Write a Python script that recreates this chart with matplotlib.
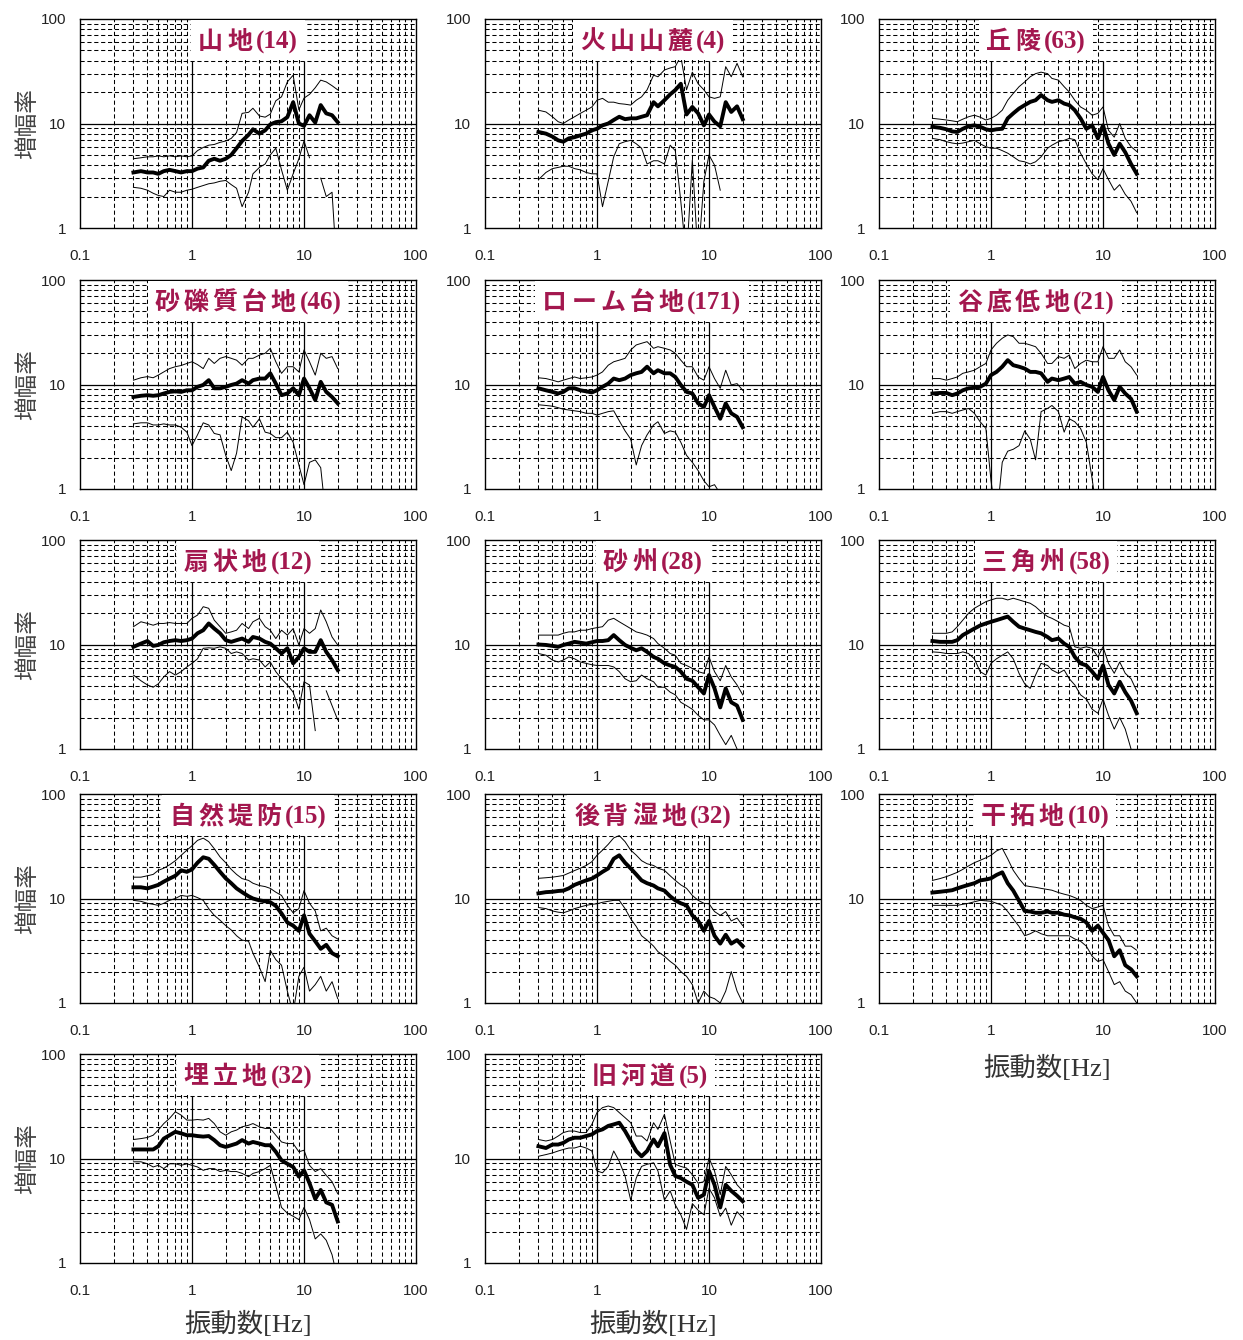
import numpy as np
import matplotlib
matplotlib.use("Agg")
import matplotlib.pyplot as plt
from matplotlib.patches import Rectangle
from matplotlib.ticker import NullLocator

nan = np.nan

# 周波数 [Hz]（全パネル共通の読み取り点）
FREQ = [0.3, 0.35, 0.4, 0.45, 0.5, 0.56, 0.63, 0.71, 0.8, 0.9,
        1.0, 1.12, 1.26, 1.41, 1.58, 1.78, 2.0, 2.24, 2.5, 2.8,
        3.2, 3.5, 4.0, 4.5, 5.0, 5.6, 6.3, 7.1, 8.0, 9.0,
        10.0, 11.2, 12.6, 14.1, 15.8, 17.8, 20.0]

TITLES = ["山地(14)", "火山山麓(4)", "丘陵(63)",
          "砂礫質台地(46)", "ローム台地(171)", "谷底低地(21)",
          "扇状地(12)", "砂州(28)", "三角州(58)",
          "自然堤防(15)", "後背湿地(32)", "干拓地(10)",
          "埋立地(32)", "旧河道(5)"]

# 山地
p01_mean = [3.4, 3.5, 3.4, 3.4, 3.3, 3.5, 3.6, 3.5, 3.4, 3.5, 3.5, 3.7, 3.8, 4.4, 4.6, 4.4, 4.6, 5.0, 5.8, 6.8,
            7.8, 8.8, 8.0, 8.6, 9.8, 10.3, 10.5, 11.5, 16.0, 10.0, 9.5, 12.0, 10.2, 15.0, 12.5, 12.0, 10.3]
p01_hi = [4.6, 4.7, 4.8, 4.8, 4.9, 4.8, 4.9, 4.8, 4.9, 4.8, 4.9, 5.5, 5.9, 6.2, 6.3, 6.6, 6.8, 7.2, 8.2, 12.5,
          12.8, 14.0, 11.8, 11.5, 12.3, 16.5, 18.0, 25.0, 29.0, 13.5, 17.5, 19.0, 22.0, 26.0, 25.0, 23.0, 21.0]
p01_lo = [2.45, 2.4, 2.3, 2.15, 2.05, 2.0, 2.3, 2.2, 2.2, 2.3, 2.35, 2.45, 2.55, 2.65, 2.7, 2.8, 2.85, 2.6, 2.4, 1.6,
          2.2, 3.3, 3.8, 4.1, 5.0, 5.8, 3.6, 2.3, 3.3, 4.6, 6.8, 4.7, nan, 3.0, 2.0, 2.2, 0.3]

# 火山山麓
p02_mean = [8.3, 8.0, 7.5, 6.9, 6.7, 7.2, 7.4, 7.7, 8.0, 8.6, 8.9, 9.6, 10.0, 10.8, 11.6, 11.0, 11.2, 11.2, 11.6, 12.0,
            16.0, 14.6, 16.7, 19.0, 20.9, 24.0, 12.2, 14.4, 12.5, 9.6, 12.2, 10.4, 9.4, 16.0, 12.9, 14.6, 11.0]
p02_hi = [13.4, 12.9, 11.6, 10.4, 10.0, 10.8, 11.6, 12.5, 13.4, 14.4, 16.7, 17.4, 16.0, 16.0, 15.5, 15.3, 15.0, 16.7, 18.0, 21.0,
          29.0, 28.0, 32.5, 34.0, 35.0, 44.0, 21.0, 31.0, 24.0, 21.0, 18.0, 17.4, 18.0, 35.0, 28.0, 37.6, 28.0]
p02_lo = [2.9, 3.4, 3.7, 3.8, 3.9, 3.9, 3.7, 3.6, 3.4, 3.3, 3.3, 1.6, 2.8, 4.8, 6.4, 6.7, 6.9, 6.4, 5.8, 4.1,
          4.4, 4.4, 4.1, 6.2, 5.5, 1.8, 0.5, 4.5, 0.5, 2.8, 5.0, 4.0, 2.3, nan, nan, nan, nan]

# 丘陵
p03_mean = [9.3, 9.1, 8.8, 8.4, 8.3, 8.9, 9.4, 9.6, 9.3, 8.8, 8.6, 8.8, 8.9, 11.2, 12.5, 13.9, 15.0, 16.1, 16.7, 18.7,
            16.7, 16.1, 16.7, 15.5, 15.0, 13.4, 11.2, 8.9, 9.6, 7.2, 9.6, 6.4, 5.0, 6.4, 5.3, 4.1, 3.3]
p03_hi = [11.2, 11.0, 10.8, 10.6, 10.4, 11.0, 11.6, 12.0, 11.5, 10.8, 11.2, 12.0, 13.4, 16.7, 19.4, 22.5, 25.0, 28.0, 30.0, 31.0,
          30.0, 27.0, 26.0, 22.5, 20.0, 16.7, 14.4, 13.4, 12.0, 12.5, 14.4, 8.6, 7.4, 10.0, 7.2, 6.0, 5.4]
p03_lo = [7.2, 7.0, 6.7, 6.5, 6.4, 6.5, 6.7, 6.9, 6.4, 6.0, 5.8, 5.8, 5.5, 5.2, 4.8, 4.4, 4.3, 4.1, 4.3, 4.8,
          5.8, 6.2, 6.7, 6.9, 7.2, 7.0, 5.2, 4.1, 3.3, 2.9, 3.7, 2.9, 2.3, 2.6, 2.1, 1.8, 1.4]

# 砂礫質台地
p04_mean = [7.6, 7.8, 7.9, 7.8, 7.9, 8.2, 8.5, 8.6, 8.5, 8.8, 8.8, 9.5, 9.9, 11.0, 9.2, 9.2, 9.5, 9.9, 10.2, 11.0,
            10.2, 11.0, 11.4, 11.4, 12.8, 10.2, 7.9, 8.2, 9.2, 7.9, 11.4, 9.2, 7.1, 10.6, 8.5, 7.6, 6.6]
p04_hi = [11.0, 11.6, 11.9, 11.6, 12.3, 13.2, 14.2, 14.8, 15.2, 15.9, 16.5, 15.5, 14.2, 17.8, 15.9, 17.8, 18.5, 17.8, 17.1, 15.3,
          17.8, 17.8, 19.1, 19.9, 22.2, 16.5, 12.8, 14.8, 14.8, 13.2, 21.4, 16.5, 12.3, 19.9, 17.8, 18.5, 14.2]
p04_lo = [4.2, 4.3, 4.3, 4.1, 4.1, 4.2, 4.1, 4.1, 3.9, 3.5, 2.6, 3.3, 4.3, 4.1, 3.4, 3.3, 2.1, 1.5, 2.2, 4.9,
          4.5, 3.9, 4.7, 3.5, 3.4, 3.1, 3.1, 3.5, 2.8, 1.7, 1.1, 1.8, 1.9, 1.6, 0.5, nan, nan]

# ローム台地
p05_mean = [9.2, 8.8, 8.5, 8.2, 8.5, 9.2, 9.2, 8.8, 8.6, 8.4, 8.8, 9.5, 10.2, 11.4, 11.0, 11.4, 12.3, 12.8, 13.2, 14.8,
            12.8, 13.7, 12.8, 12.8, 11.8, 9.9, 8.5, 8.2, 6.6, 6.1, 7.9, 6.1, 4.7, 6.6, 5.3, 4.9, 3.9]
p05_hi = [11.6, 11.4, 11.0, 10.6, 11.0, 11.4, 11.8, 11.4, 11.6, 11.8, 12.3, 13.2, 15.3, 16.5, 17.1, 17.8, 21.4, 23.9, 24.8, 25.7,
          22.2, 23.0, 22.2, 21.4, 19.9, 17.1, 14.8, 14.8, 11.8, 11.0, 14.8, 11.4, 9.2, 13.7, 9.9, 10.2, 8.8]
p05_lo = [6.4, 6.3, 6.2, 6.0, 5.8, 5.7, 5.6, 5.5, 5.3, 5.3, 5.1, 5.3, 5.5, 5.6, 4.5, 3.6, 3.0, 1.7, 2.6, 3.3,
          4.1, 4.4, 3.4, 3.6, 3.5, 2.8, 2.1, 1.8, 1.5, 1.2, 1.05, 1.1, 0.9, nan, nan, nan, nan]

# 谷底低地
p06_mean = [8.2, 8.3, 8.3, 7.9, 8.2, 8.8, 9.2, 9.3, 9.5, 10.2, 12.3, 13.2, 14.8, 17.1, 15.3, 14.8, 14.2, 13.2, 13.2, 12.8,
            10.6, 11.4, 11.0, 11.4, 11.8, 10.2, 10.6, 9.9, 9.5, 8.5, 11.8, 8.8, 7.1, 9.5, 8.2, 7.3, 5.5]
p06_hi = [11.4, 11.4, 11.0, 11.4, 11.8, 12.8, 13.2, 13.7, 14.8, 15.9, 21.4, 24.8, 27.7, 29.8, 28.7, 24.8, 24.8, 23.9, 23.0, 19.9,
          15.9, 15.9, 18.5, 17.8, 19.1, 14.2, 15.9, 17.1, 16.5, 16.5, 23.0, 17.8, 17.8, 21.4, 16.5, 14.8, 12.3]
p06_lo = [5.3, 5.5, 5.5, 5.3, 5.5, 5.7, 5.9, 5.3, 4.4, 3.8, 1.2, 0.5, 1.8, 2.3, 2.4, 2.6, 3.6, 3.0, 1.9, 5.5,
          5.9, 6.3, 5.5, 3.5, 4.7, 4.4, 3.8, 2.8, 1.25, 0.5, nan, nan, nan, nan, nan, nan, nan]

# 扇状地
p07_mean = [9.5, 10.2, 10.8, 9.7, 9.9, 10.5, 10.8, 11.0, 10.8, 11.0, 11.4, 12.8, 13.7, 15.9, 14.2, 12.8, 11.0, 10.6, 11.0, 11.4,
            10.6, 11.8, 11.4, 10.6, 10.2, 9.2, 8.2, 9.2, 6.6, 7.6, 9.2, 8.5, 8.5, 11.0, 8.5, 7.1, 5.7]
p07_hi = [14.8, 16.5, 15.9, 15.3, 15.9, 15.9, 16.2, 15.9, 15.9, 15.9, 17.8, 19.1, 23.0, 22.2, 17.1, 14.8, 12.8, 13.2, 13.7, 15.9,
          14.2, 16.5, 17.8, 14.8, 13.7, 11.4, 13.7, 12.3, 14.2, 9.9, 14.2, 12.8, 14.2, 21.4, 16.5, 11.8, 9.9]
p07_lo = [5.1, 4.5, 4.1, 3.9, 4.2, 4.9, 5.5, 5.1, 5.5, 6.1, 6.6, 7.3, 9.2, 9.3, 9.2, 9.5, 9.2, 8.2, 8.5, 8.2,
          7.1, 7.3, 7.1, 6.1, 6.8, 5.5, 4.7, 4.1, 3.5, 2.4, 4.4, 4.1, 1.5, nan, 3.6, 2.6, 1.9]

# 砂州
p08_mean = [10.0, 9.9, 9.7, 9.5, 9.9, 10.2, 10.6, 10.4, 10.2, 10.5, 10.8, 10.8, 11.0, 12.3, 11.0, 9.9, 9.3, 8.8, 9.2, 8.5,
            7.6, 7.3, 6.6, 6.3, 6.1, 5.5, 4.7, 4.5, 3.9, 3.4, 5.1, 3.8, 2.5, 3.8, 2.8, 2.6, 1.9]
p08_hi = [12.3, 12.3, 12.3, 12.3, 12.8, 13.2, 13.2, 13.7, 13.7, 14.2, 14.5, 14.8, 17.1, 17.8, 16.5, 15.3, 14.2, 13.2, 12.8, 12.3,
          11.4, 10.2, 9.2, 8.2, 7.9, 6.6, 6.3, 5.9, 5.5, 5.3, 7.6, 5.5, 4.5, 6.3, 4.9, 4.1, 3.3]
p08_lo = [8.2, 7.9, 7.1, 6.8, 7.1, 7.6, 7.3, 6.8, 6.6, 6.4, 6.3, 6.3, 6.3, 6.1, 5.5, 4.7, 4.4, 4.5, 5.1, 4.7,
          4.4, 3.9, 3.9, 3.5, 3.3, 2.8, 2.6, 2.4, 2.1, 1.9, 1.9, 1.7, 1.35, 1.1, 1.35, 1.0, nan]

# 三角州
p09_mean = [10.8, 10.6, 10.6, 10.6, 11.0, 12.3, 13.2, 14.2, 15.2, 15.9, 16.5, 17.1, 17.8, 18.5, 16.5, 14.8, 14.2, 13.7, 13.2, 12.8,
            11.8, 11.0, 11.4, 10.2, 9.5, 7.6, 6.6, 6.3, 5.5, 4.7, 6.3, 4.1, 3.4, 4.4, 3.5, 2.9, 2.2]
p09_hi = [12.8, 12.8, 12.8, 13.2, 14.8, 17.1, 19.9, 22.2, 23.9, 25.7, 26.7, 27.7, 27.7, 26.7, 27.7, 26.7, 25.7, 24.8, 23.0, 20.6,
          18.5, 17.8, 16.5, 15.3, 14.8, 9.5, 9.2, 9.5, 9.2, 7.6, 9.5, 6.6, 5.3, 6.8, 5.3, 4.7, 3.6]
p09_lo = [8.5, 8.4, 8.2, 8.2, 8.2, 8.5, 8.2, 7.3, 5.5, 5.1, 6.6, 7.3, 7.9, 8.5, 7.3, 5.3, 4.2, 3.8, 5.1, 6.6,
          6.3, 5.7, 5.3, 5.7, 4.7, 4.1, 3.3, 3.0, 2.4, 2.2, 3.0, 2.1, 1.55, 2.0, 1.55, 1.0, nan]

# 自然堤防
p10_mean = [12.8, 12.8, 12.5, 13.0, 13.5, 14.5, 15.5, 16.5, 18.6, 18.0, 19.0, 22.0, 24.8, 24.0, 21.0, 18.0, 15.6, 14.0, 12.5, 11.5,
            10.5, 10.0, 9.6, 9.4, 9.2, 8.5, 7.2, 5.9, 5.5, 4.9, 6.9, 4.6, 3.9, 3.3, 3.6, 3.0, 2.8]
p10_hi = [16.0, 16.0, 16.5, 17.0, 18.6, 19.5, 21.0, 23.0, 25.9, 29.0, 32.0, 36.0, 37.8, 35.0, 30.0, 25.0, 22.0, 19.0, 17.0, 15.5,
          14.9, 14.0, 13.3, 13.0, 12.5, 11.5, 10.7, 8.6, 7.3, 8.0, 11.9, 9.0, 7.6, 4.9, 5.2, 4.4, 4.1]
p10_lo = [9.6, 9.4, 9.0, 8.8, 8.6, 9.0, 9.6, 10.0, 10.7, 10.5, 10.7, 10.2, 9.6, 8.0, 6.9, 6.2, 5.5, 5.0, 4.4, 4.0,
          3.9, 3.0, 2.2, 1.6, 3.2, 2.6, 2.3, 1.3, 0.8, 1.8, 2.2, 1.3, 1.5, 1.8, 1.3, 1.6, 1.1]

# 後背湿地
p11_mean = [11.2, 11.5, 11.6, 11.8, 11.9, 12.5, 13.5, 14.2, 14.9, 15.5, 16.6, 18.0, 19.4, 24.0, 25.9, 22.0, 19.4, 17.0, 14.9, 14.0,
            13.3, 12.5, 11.9, 10.5, 9.6, 9.0, 8.6, 6.9, 6.1, 4.9, 6.1, 4.4, 3.7, 4.5, 3.7, 4.0, 3.5]
p11_hi = [15.6, 15.8, 16.0, 16.3, 16.6, 17.5, 18.5, 19.5, 20.7, 22.5, 25.9, 29.0, 33.0, 38.0, 40.0, 35.0, 29.0, 26.0, 23.0, 21.5,
          20.7, 19.5, 18.6, 16.5, 14.9, 13.5, 12.5, 10.7, 9.6, 9.0, 8.9, 7.5, 6.9, 7.5, 6.1, 6.5, 5.5]
p11_lo = [8.2, 8.0, 7.6, 7.4, 7.3, 7.6, 8.0, 8.3, 8.6, 8.8, 8.9, 9.2, 9.4, 9.6, 9.6, 8.0, 6.4, 5.4, 4.4, 4.0,
          3.5, 3.1, 2.8, 2.5, 2.3, 2.0, 1.8, 1.5, 1.0, 1.3, 1.15, 1.1, 1.0, 1.3, 2.0, 1.3, 1.0]

# 干拓地
p12_mean = [11.4, 11.6, 11.8, 12.0, 12.5, 13.0, 13.5, 14.0, 14.9, 15.2, 15.6, 16.8, 17.8, 14.0, 11.9, 9.5, 7.6, 7.5, 7.3, 7.3,
            7.5, 7.3, 7.3, 7.0, 6.9, 6.6, 6.4, 5.9, 4.9, 5.5, 4.7, 4.0, 2.8, 3.2, 2.3, 2.1, 1.8]
p12_hi = [14.9, 15.5, 16.2, 17.0, 17.8, 19.0, 20.5, 22.0, 23.2, 24.5, 25.9, 28.5, 30.2, 24.0, 18.6, 15.5, 13.3, 13.0, 12.8, 12.5,
          12.2, 12.0, 11.4, 11.0, 10.7, 10.2, 9.6, 8.6, 8.0, 8.3, 8.6, 5.5, 4.4, 4.4, 3.5, 3.5, 3.2]
p12_lo = [8.6, 8.6, 8.6, 8.6, 8.6, 8.8, 9.0, 9.3, 9.6, 9.5, 9.4, 9.0, 8.6, 7.5, 6.4, 5.4, 4.4, 4.6, 4.9, 4.6,
          4.4, 4.4, 4.4, 4.4, 4.4, 4.1, 3.9, 3.5, 2.8, 2.5, 2.6, 2.0, 1.5, 1.6, 1.3, 1.2, 1.0]

# 埋立地
p13_mean = [12.2, 12.2, 12.2, 12.2, 13.1, 15.5, 16.7, 18.0, 17.4, 16.7, 16.7, 16.4, 16.2, 16.4, 15.0, 13.4, 12.9, 13.4, 13.9, 15.0,
            13.9, 14.4, 13.9, 13.4, 13.4, 11.6, 9.6, 8.9, 8.3, 6.7, 7.7, 5.8, 4.1, 5.0, 3.8, 3.6, 2.5]
p13_hi = [15.2, 15.5, 15.9, 16.7, 18.7, 21.6, 24.2, 28.0, 26.0, 23.3, 23.3, 23.6, 23.3, 24.2, 21.6, 18.0, 16.7, 18.0, 18.7, 20.1,
          20.8, 21.6, 20.1, 19.4, 19.4, 16.7, 14.4, 13.9, 13.9, 11.6, 12.0, 8.6, 7.5, 8.0, 6.9, 6.0, 4.6]
p13_lo = [9.3, 9.3, 8.9, 8.3, 8.6, 8.0, 8.9, 8.9, 8.6, 8.9, 8.6, 8.3, 7.7, 8.0, 8.0, 7.5, 7.7, 7.5, 7.5, 7.2,
          6.7, 7.2, 7.5, 8.0, 8.6, 5.5, 3.4, 3.0, 2.8, 2.6, 3.4, 2.6, 1.7, 1.9, 1.65, 1.2, 0.7]

# 旧河道
p14_mean = [13.1, 12.6, 13.6, 13.6, 14.1, 15.2, 15.8, 15.8, 16.4, 17.0, 18.3, 19.0, 20.5, 21.2, 22.0, 18.3, 14.7, 11.8, 10.5, 11.8,
            15.2, 13.1, 17.5, 8.7, 6.8, 6.5, 6.0, 5.6, 4.2, 4.5, 7.6, 5.6, 3.4, 5.6, 4.9, 4.4, 3.9]
p14_hi = [15.2, 14.7, 15.2, 16.4, 17.7, 18.3, 18.3, 17.7, 17.7, 21.2, 27.5, 30.7, 31.8, 30.7, 27.5, 24.6, 22.0, 16.4, 16.4, 14.7,
          22.0, 19.0, 26.5, 14.7, 8.8, 8.4, 8.1, 7.0, 5.8, 6.0, 10.1, 7.6, 4.5, 8.4, 7.0, 5.6, 4.9]
p14_lo = [10.5, 10.9, 11.3, 11.8, 12.2, 12.6, 12.6, 13.1, 12.6, 11.8, 7.6, 7.3, 8.4, 11.8, 9.4, 6.8, 4.0, 6.5, 8.4, 8.8,
          9.1, 7.6, 4.0, 4.9, 3.6, 2.9, 2.1, 3.7, 3.2, 2.9, 5.2, 4.2, 2.8, 3.35, 2.3, 3.1, 2.7]

PANELS = [
    (p01_mean, p01_hi, p01_lo), (p02_mean, p02_hi, p02_lo), (p03_mean, p03_hi, p03_lo),
    (p04_mean, p04_hi, p04_lo), (p05_mean, p05_hi, p05_lo), (p06_mean, p06_hi, p06_lo),
    (p07_mean, p07_hi, p07_lo), (p08_mean, p08_hi, p08_lo), (p09_mean, p09_hi, p09_lo),
    (p10_mean, p10_hi, p10_lo), (p11_mean, p11_hi, p11_lo), (p12_mean, p12_hi, p12_lo),
    (p13_mean, p13_hi, p13_lo), (p14_mean, p14_hi, p14_lo),
]

# レイアウト（ピクセル）
W, H = 1243, 1340
COL_X = [80, 485, 879]
ROW_Y = [19, 280, 540, 794, 1054]
PW, PH = 336, 209
TITLE_DX = [0, 0, -11, 0, -11, -11, 0, 0, -1, 0, 0, -2, 0, -3]  # タイトル中心のずれ (px)

TITLE_COLOR = "#A3174E"
TITLE_SIZE = 18
TITLE_GAP = 4  # 漢字の字間 (px)
KANJI_FONT = dict(family="Noto Sans CJK JP", fontweight="bold")
NUM_FONT = dict(family="Liberation Serif", fontweight="bold")
JP_SERIF = ["Liberation Serif", "Noto Sans CJK JP"]

fig = plt.figure(figsize=(W / 100, H / 100), dpi=100)
renderer = fig.canvas.get_renderer()

minor_x = [0.2, 0.3, 0.4, 0.5, 0.6, 0.7, 0.8, 0.9,
           2, 3, 4, 5, 6, 7, 8, 9, 20, 30, 40, 50, 60, 70, 80, 90]
minor_y = [2, 3, 4, 5, 6, 7, 8, 9, 20, 30, 40, 50, 60, 70, 80, 90]


def draw_title(ax, text, dx=0, yc=0.9):
    k = text.index("(")
    parts = [(ch, KANJI_FONT) for ch in text[:k]] + [(text[k:], NUM_FONT)]
    gaps = [TITLE_GAP] * k + [0]
    widths = []
    for s, fp in parts:
        t = ax.text(0, 0, s, fontsize=TITLE_SIZE, **fp)
        widths.append(t.get_window_extent(renderer).width)
        t.remove()
    total = sum(widths) + sum(gaps)
    xc = 0.5 + dx / PW
    bw, bh = (total + 14) / PW, 40 / PH
    ax.add_patch(Rectangle((xc - bw / 2, yc - bh / 2), bw, bh, transform=ax.transAxes,
                           facecolor="white", edgecolor="none", zorder=5))
    x = -total / 2
    for (s, fp), w, g in zip(parts, widths, gaps):
        ax.annotate(s, xy=(xc, yc), xycoords="axes fraction",
                    xytext=(x * 0.72, -6.3), textcoords="offset points",
                    ha="left", va="baseline", fontsize=TITLE_SIZE,
                    color=TITLE_COLOR, zorder=6, **fp)
        x += w + g


for i, (mean, hi, lo) in enumerate(PANELS):
    r, c = divmod(i, 3)
    x0, y0 = COL_X[c], ROW_Y[r]
    ax = fig.add_axes([x0 / W, 1 - (y0 + PH) / H, PW / W, PH / H])
    ax.set_xscale("log")
    ax.set_yscale("log")
    ax.set_xlim(0.1, 100)
    ax.set_ylim(1, 100)

    # グリッド
    for v in minor_x:
        ax.axvline(v, color="k", lw=0.75, ls=(0, (4, 2.6)), zorder=1)
    for v in minor_y:
        ax.axhline(v, color="k", lw=0.75, ls=(0, (4, 2.6)), zorder=1)
    ax.vlines([1, 10], 1, 40, color="k", lw=0.9, zorder=1)
    ax.axhline(10, color="k", lw=0.9, zorder=1)

    # 曲線
    ax.plot(FREQ, hi, color="k", lw=0.7, zorder=3)
    ax.plot(FREQ, lo, color="k", lw=0.7, zorder=3)
    ax.plot(FREQ, mean, color="k", lw=2.8, zorder=4)

    # 軸
    ax.set_xticks([0.1, 1, 10, 100])
    ax.set_xticklabels(["0.1", "1", "10", "100"])
    ax.set_yticks([1, 10, 100])
    ax.set_yticklabels(["1", "10", "100"])
    ax.xaxis.set_minor_locator(NullLocator())
    ax.yaxis.set_minor_locator(NullLocator())
    ax.tick_params(length=0, labelsize=11, colors="#222222")
    ax.tick_params(axis="x", pad=15)
    ax.tick_params(axis="y", pad=10)
    for lab in ax.get_xticklabels() + ax.get_yticklabels():
        lab.set_family("Liberation Sans")
    for s in ax.spines.values():
        s.set_linewidth(1.0)
        s.set_color("k")

    draw_title(ax, TITLES[i], TITLE_DX[i])

    if c == 0:
        ax.text(-0.155, 0.5, "増幅率", transform=ax.transAxes, rotation=90,
                ha="center", va="center", fontsize=17, color="#444444",
                family="Noto Sans CJK JP")
    if r == 4 or (r == 3 and c == 2):
        yl = -0.29 if r == 4 else -0.31
        ax.text(0.5, yl, "振動数[Hz]", transform=ax.transAxes, ha="center", va="center",
                fontsize=19, color="#333333", family=JP_SERIF)

fig.savefig("out.png", dpi=100, facecolor="white")
